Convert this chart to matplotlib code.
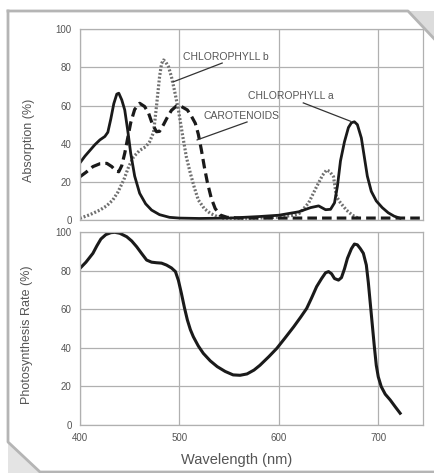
import matplotlib.pyplot as plt
from matplotlib.lines import Line2D
from matplotlib.patches import Polygon

plt.rcParams["font.family"] = ["Liberation Sans", "DejaVu Sans"]

# Absorption spectra (top panel)
chla_nm = [400, 405, 410, 415, 420, 425, 428, 431, 434, 437, 439, 442, 445,
           448, 451, 455, 460, 466, 472, 480, 490, 500, 520, 550, 580, 600,
           620, 632, 640, 647, 652, 656, 659, 662, 666, 670, 673, 676, 679,
           683, 686, 689, 693, 698, 704, 710, 716, 722]
chla_abs = [30, 33.5, 36.5, 39.5, 42, 43.8, 46, 53, 61, 66, 66.5, 63, 57.7,
            47, 35, 23, 14, 8.5, 5.2, 2.8, 1.4, 1, 0.8, 1, 1.8, 2.5,
            4.3, 6.5, 7.4, 5.4, 5.6, 9, 18, 31, 41, 48.5, 51, 51.5, 50,
            43, 33, 23, 15, 10, 6.5, 3.8, 2, 0.9]

chlb_nm = [400, 410, 420, 427, 433, 438, 444, 449, 454, 460, 466, 470, 474,
           477, 480, 482, 484, 486, 489, 492, 495, 499, 503, 507, 511, 515,
           519, 525, 531, 538, 544, 560, 580, 600, 615, 621, 630, 638, 644,
           648, 651, 655, 658, 662, 668, 674, 680]
chlb_abs = [0.9, 2.8, 5.2, 7.5, 10.5, 14.5, 21, 28, 33.2, 36.5, 38.4, 41, 46,
            60, 75, 82, 83.9, 83, 80.4, 75, 68, 57.7, 45, 33, 24.5, 17,
            10.5, 6, 3.5, 1.8, 0.9, 0.8, 1, 1.5, 2.5, 3.6, 9, 17.5, 23.5,
            26.2, 25.5, 22.7, 12.2, 9, 5.2, 2.5, 0.9]

car_nm = [400, 406, 413, 420, 427, 432, 436, 439, 442, 445, 448, 451, 455,
          460, 465, 469, 473, 477, 480, 484, 488, 492, 497, 502, 508, 512,
          516, 519, 522, 525, 528, 532, 536, 541, 548, 560, 745]
car_abs = [22.7, 25, 28, 29.5, 29.7, 28, 25.8, 25.3, 28.5, 35, 43, 51, 58,
           61.2, 59.5, 56, 50, 46.3, 46.5, 50, 54, 57.5, 59.8, 59.5, 57.7,
           54.5, 50.7, 45, 37, 28, 20, 11.5, 6, 2.6, 1.4, 1, 1]

# Action spectrum (bottom panel)
ps_nm = [400, 406, 413, 417, 421, 426, 431, 435, 440, 447, 452, 457, 462,
         467, 472, 477, 482, 487, 492, 496, 499, 502, 505, 508, 511, 514,
         519, 524, 531, 538, 546, 554, 561, 568, 575, 581, 590, 598, 606,
         615, 622, 628, 633, 638, 643, 647, 650, 653, 656, 660, 663, 666,
         669, 673, 676, 679, 682, 685, 688, 690, 692, 694, 696, 698, 700,
         703, 707, 712, 717, 722]
ps_rate = [81.3, 84.5, 89.1, 93, 96.5, 98.8, 99.8, 100, 99.5, 97.7, 95.5,
           92.5, 89, 85.6, 84.5, 84.2, 84, 83, 81.5, 79.6, 75, 68.3, 61, 54.5,
           49.5, 45.8, 41, 37.2, 33.3, 30.3, 27.8, 26, 25.8, 26.5, 28.5, 31,
           35.5, 39.8, 45, 51, 56, 60.5, 66, 71.8, 76, 79, 79.6, 78.5, 76,
           75.2, 76.5, 81, 86.5, 91.5, 93.9, 93.5, 91.5, 89.1, 83, 74, 63, 52,
           41, 31, 25, 19.9, 16, 13, 9.5, 6.1]

x_ticks = [400, 500, 600, 700]
y_ticks = [0, 20, 40, 60, 80, 100]

W, H = 434, 473
fig = plt.figure(figsize=(W / 100, H / 100), dpi=100)


def fx(px):
    return px / W


def fy(py):
    return 1 - py / H


ax1 = fig.add_axes([fx(80), fy(220), fx(423) - fx(80), fy(29.3) - fy(220)])
ax2 = fig.add_axes([fx(80), fy(425), fx(423) - fx(80), fy(232.3) - fy(425)])

for ax in (ax1, ax2):
    ax.set_xlim(400, 745)
    ax.set_ylim(0, 100)
    ax.set_xticks(x_ticks)
    ax.set_yticks(y_ticks)
    ax.grid(True, color="#b0b0b0", lw=0.9)
    ax.set_axisbelow(True)
    for s in ax.spines.values():
        s.set_color("#b0b0b0")
        s.set_linewidth(0.9)
    ax.tick_params(length=0, pad=6, labelsize=7, colors="#555555")

ax1.tick_params(axis="x", labelbottom=False)

style = dict(solid_joinstyle="round", dash_joinstyle="round")
ax1.plot(chlb_nm, chlb_abs, color="#707070", lw=2.3, ls=(0, (0.6, 0.6)), **style)
ax1.plot(car_nm, car_abs, color="#1a1a1a", lw=2.3, ls=(0, (3, 1.6)), **style)
ax1.plot(chla_nm, chla_abs, color="#1a1a1a", lw=2.0, **style)

ann = dict(fontsize=7.5, color="#555555")
ax1.text(504, 85.5, "CHLOROPHYLL b", va="center", **ann)
ax1.plot([493.6, 543], [72.4, 82.3], color="#333333", lw=0.9)
ax1.text(569, 65, "CHLOROPHYLL a", va="center", **ann)
ax1.plot([624.6, 672], [61.4, 51.8], color="#333333", lw=0.9)
ax1.text(524, 54.5, "CAROTENOIDS", va="center", **ann)
ax1.plot([517.8, 568], [42, 51.4], color="#333333", lw=0.9)

ax1.set_ylabel("Absorption (%)", fontsize=9, color="#555555")
ax1.yaxis.set_label_coords(-0.131, 0.42)

ax2.plot(ps_nm, ps_rate, color="#1a1a1a", lw=2.2, **style)
ax2.set_ylabel("Photosynthesis Rate (%)", fontsize=9, color="#555555")
ax2.yaxis.set_label_coords(-0.138, 0.47)
ax2.set_xlabel("Wavelength (nm)", fontsize=10.5, color="#555555")
ax2.xaxis.set_label_coords(0.458, -0.145)

# decorative frame with folded corners
tf = fig.transFigure
shade1 = Polygon([(fx(408), fy(11)), (fx(440), fy(11)), (fx(440), fy(45))],
                 closed=True, transform=tf, facecolor="#dcdcdc", edgecolor="none")
shade2 = Polygon([(fx(8), fy(442)), (fx(40), fy(473)), (fx(8), fy(473))],
                 closed=True, transform=tf, facecolor="#e4e4e4", edgecolor="none")
fig.patches.extend([shade1, shade2])
fig.lines.append(Line2D([fx(8), fx(408), fx(440)], [fy(11), fy(11), fy(45)],
                        transform=tf, color="#b5b5b5", lw=2))
fig.lines.append(Line2D([fx(8), fx(8), fx(40), fx(434)],
                        [fy(11), fy(442), fy(472), fy(472)],
                        transform=tf, color="#b5b5b5", lw=2))

fig.savefig("out.png", dpi=100)
